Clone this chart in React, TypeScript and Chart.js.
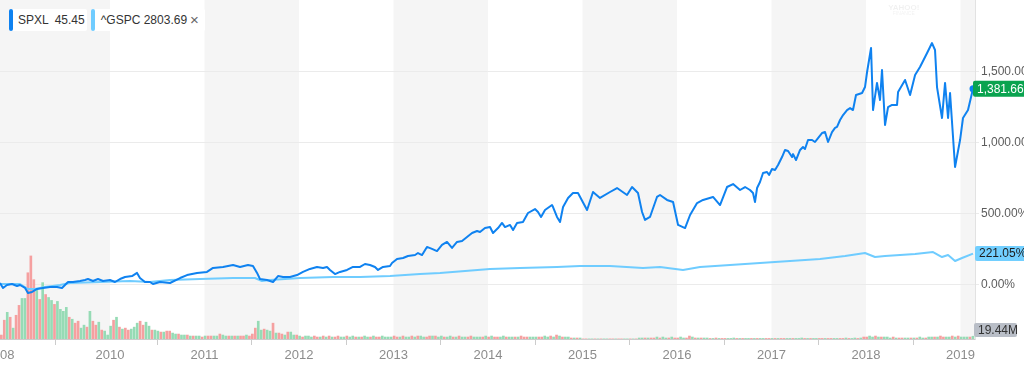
import React, { useEffect, useRef } from 'react';
import { Chart, registerables } from 'chart.js';

Chart.register(...registerables);

// ---- SPXL % change (fractional year, percent) ----
const spxlDates = [
  2008.836, 2008.868, 2008.910, 2008.963, 2009.016, 2009.048, 2009.101, 2009.132, 2009.175, 2009.228,
  2009.291, 2009.365, 2009.439, 2009.492, 2009.524, 2009.556, 2009.608, 2009.683, 2009.735, 2009.767,
  2009.820, 2009.873, 2009.926, 2010.000, 2010.053, 2010.106, 2010.159, 2010.233, 2010.286, 2010.317,
  2010.370, 2010.423, 2010.455, 2010.529, 2010.635, 2010.741, 2010.815, 2010.921, 2011.026, 2011.090,
  2011.196, 2011.302, 2011.376, 2011.460, 2011.513, 2011.556, 2011.587, 2011.661, 2011.725, 2011.778,
  2011.831, 2011.905, 2011.979, 2012.042, 2012.116, 2012.190, 2012.254, 2012.296, 2012.328, 2012.381,
  2012.434, 2012.508, 2012.571, 2012.646, 2012.698, 2012.751, 2012.804, 2012.836, 2012.889, 2012.963,
  2012.984, 2013.037, 2013.101, 2013.153, 2013.228, 2013.259, 2013.302, 2013.354, 2013.407, 2013.460,
  2013.513, 2013.566, 2013.619, 2013.672, 2013.725, 2013.778, 2013.831, 2013.884, 2013.915, 2013.968,
  2014.021, 2014.053, 2014.106, 2014.148, 2014.180, 2014.233, 2014.265, 2014.307, 2014.370, 2014.423,
  2014.497, 2014.529, 2014.561, 2014.603, 2014.677, 2014.688, 2014.730, 2014.762, 2014.794, 2014.847,
  2014.899, 2014.952, 2015.048, 2015.111, 2015.185, 2015.291, 2015.365, 2015.471, 2015.524, 2015.587,
  2015.630, 2015.661, 2015.714, 2015.788, 2015.820, 2015.894, 2015.958, 2016.011, 2016.085, 2016.138,
  2016.212, 2016.275, 2016.381, 2016.455, 2016.529, 2016.593, 2016.667, 2016.720, 2016.772, 2016.804,
  2016.825, 2016.847, 2016.878, 2016.910, 2016.952, 2016.974, 2017.005, 2017.037, 2017.069, 2017.111,
  2017.143, 2017.175, 2017.217, 2017.228, 2017.259, 2017.302, 2017.333, 2017.354, 2017.386, 2017.429,
  2017.460, 2017.492, 2017.534, 2017.566, 2017.598, 2017.640, 2017.672, 2017.693, 2017.725, 2017.757,
  2017.799, 2017.831, 2017.862, 2017.894, 2017.958, 2017.989, 2018.011, 2018.053, 2018.074, 2018.116,
  2018.148, 2018.169, 2018.201, 2018.233, 2018.275, 2018.328, 2018.339, 2018.413, 2018.466, 2018.519,
  2018.571, 2018.646, 2018.698, 2018.730, 2018.751, 2018.804, 2018.836, 2018.868, 2018.889, 2018.942,
  2018.995, 2019.026, 2019.079, 2019.132,
];
const spxlPct = [
  14, -21, 0, 7, -7, 0, -21, -56, -49, -28,
  -21, -14, -14, -21, 0, 21, 21, 28, 35, 42,
  28, 42, 28, 35, 21, 42, 56, 63, 85, 49,
  21, 21, 7, 21, 14, 49, 70, 85, 92, 120,
  127, 141, 127, 141, 134, 85, 42, 35, 21, 63,
  56, 56, 70, 92, 113, 127, 120, 127, 106, 77,
  92, 106, 127, 127, 148, 141, 127, 106, 127, 134,
  155, 183, 190, 204, 211, 225, 211, 268, 254, 239,
  282, 303, 261, 303, 310, 338, 366, 380, 373, 401,
  408, 366, 401, 437, 408, 423, 387, 437, 444, 507,
  535, 514, 479, 528, 563, 549, 479, 444, 549, 613,
  648, 648, 528, 655, 613, 655, 683, 634, 690, 648,
  514, 458, 479, 620, 634, 599, 584, 423, 401, 493,
  577, 599, 620, 563, 690, 711, 669, 690, 669, 648,
  584, 683, 725, 789, 796, 775, 817, 810, 845, 901,
  951, 944, 901, 922, 880, 951, 972, 958, 1021, 1021,
  1007, 1035, 1070, 1077, 1007, 1077, 1106, 1113, 1162, 1197,
  1232, 1246, 1232, 1338, 1352, 1394, 1500, 1669, 1232, 1423,
  1303, 1514, 1127, 1253, 1268, 1268, 1359, 1444, 1338, 1479,
  1535, 1634, 1704, 1655, 1394, 1176, 1423, 1176, 1352, 831,
  1021, 1176, 1232, 1381.66,
];

// ---- ^GSPC % change ----
const gspcDates = [
  2008.836, 2008.942, 2009.048, 2009.132, 2009.206, 2009.312, 2009.471, 2009.577, 2009.894, 2010.212,
  2010.423, 2010.635, 2010.952, 2011.302, 2011.534, 2011.608, 2011.693, 2012.011, 2012.360, 2012.646,
  2012.963, 2013.280, 2013.492, 2013.757, 2014.021, 2014.339, 2014.730, 2014.974, 2015.291, 2015.640,
  2015.820, 2016.063, 2016.243, 2016.561, 2016.878, 2017.196, 2017.513, 2017.778, 2017.989, 2018.095,
  2018.201, 2018.360, 2018.519, 2018.709, 2018.804, 2018.868, 2018.942, 2019.016, 2019.132,
];
const gspcPct = [
  7, 7, 7, -28, -28, -14, 0, 14, 21, 28,
  21, 35, 42, 49, 49, 28, 35, 49, 56, 56,
  63, 77, 85, 99, 113, 120, 127, 134, 134, 120,
  127, 106, 127, 141, 155, 169, 183, 204, 225, 197,
  204, 211, 218, 232, 197, 211, 169, 190, 221.05,
];

// ---- SPXL volume (millions), one bar every 1/32 year from volStart ----
const volStart = 2008.85;
const volStep = 1 / 32;
const volumeM = [
  28, 133, 189, 154, 77, 168, 238, 287, 287, 469,
  588, 420, 350, 280, 399, 315, 294, 273, 245, 266,
  210, 196, 224, 154, 140, 112, 126, 77, 98, 84,
  196, 126, 98, 119, 63, 56, 28, 91, 133, 154,
  84, 70, 77, 63, 70, 84, 112, 126, 98, 119,
  91, 63, 63, 56, 49, 49, 56, 56, 42, 35,
  35, 28, 28, 28, 21, 21, 21, 21, 14, 21,
  21, 21, 21, 21, 35, 28, 21, 21, 21, 21,
  21, 21, 21, 28, 21, 35, 77, 126, 63, 70,
  63, 56, 112, 42, 42, 35, 28, 49, 49, 28,
  28,
  21, 14, 21, 21, 14, 21, 14, 14, 21, 14, 21, 14, 14, 21, 14, 14, 21, 14, 21, 14, 14, 14, 21, 14, 14, 21, 14, 14, 21, 14, 14, 14, 21,
  14, 14, 21, 14, 14, 21, 14, 21, 21, 14, 14, 21, 21, 21, 14, 21, 14, 14, 21, 14, 14, 21, 14, 14, 14, 21, 14, 14, 14, 14, 21, 14,
  21, 14, 14, 14, 21, 14, 14, 14, 14, 14, 21, 14, 14, 14, 14, 14, 14, 14, 21, 14, 21, 14, 28, 21, 14, 14, 14, 7, 7, 7, 7,
  1, 1, 1, 1, 1, 1, 1, 1, 1, 1, 1, 1, 1, 1, 1, 1, 1, 1, 1,
  7, 7, 7, 7, 7, 7, 14, 7, 14, 7, 7, 14, 7, 7, 14, 7, 7, 21, 14, 7, 7,
  7, 7, 7, 4, 4, 7, 4, 4, 4, 4, 4, 7, 4, 4, 4, 4, 4, 4, 4, 4,
  4, 4, 4, 4, 4, 4, 4, 4, 4, 4, 4, 4, 4, 4, 7, 4, 4, 4, 4, 4,
  4, 4, 4, 4, 4, 4, 4, 4, 4, 7, 4, 4, 7, 4, 7,
  14, 14, 21, 14, 21, 14, 14, 14, 14, 7, 14,
  7, 7, 7, 7, 7, 7, 7, 7, 14, 7, 7, 14, 14,
  14, 14, 21, 14, 14, 14, 21, 14, 21, 14, 14, 14, 14, 19.44,
];
// r = down period, g = up period
const volumeDir =
  'rrgrgrrggr' + 'rrgrgrggrg' + 'gggrgrrggr' + 'grrgrgggrg' + 'rgrrgggrrg' +
  'grggrgrrgg' + 'rggrgrggrg' + 'rrggrggrgr' + 'grrgrrrggr' + 'ggrgrrgrgg' +
  'rgrgggrrgr' + 'grgrrggrgg' + 'rgrggrgrrg' + 'gggrrgrggr' + 'grggrrgrgg' +
  'rggrgrggrr' + 'gggrgrgrrg' + 'grggrgrrrg' + 'ggrrggrgrg' + 'rggrgrgrrg' +
  'grgrggrrgr' + 'rggrgrggrg' + 'rrgrggrgrr' + 'ggrrgrgrgg' + 'rgrgrrgggr' +
  'grggrgrggr' + 'rgrgrrggrg' + 'ggrgrggrrg' + 'rrggrrgrgg' + 'rgrrggrgrg' +
  'ggrgrrggrg' + 'rggrggrgrr' + 'ggrgrgggrg';

const xTickValues = [2008.836, 2010, 2011, 2012, 2013, 2014, 2015, 2016, 2017, 2018, 2019];
const xTickLabels = ['2008', '2010', '2011', '2012', '2013', '2014', '2015', '2016', '2017', '2018', '2019'];
const yTickValues = [0, 500, 1000, 1500];
const grayBands = [[2008, 2010], [2011, 2012], [2013, 2014], [2015, 2016], [2017, 2018], [2019, 2020]];

const X_MIN = 2008.836;
const X_MAX = 2019.153;
const Y_MIN = -380.3;
const Y_MAX = 2007;
const VOL_MAX = 2400;

const FONT = "'Helvetica Neue', Helvetica, Arial, 'Liberation Sans', sans-serif";
const SPXL_COLOR = '#0f82f0';
const GSPC_COLOR = '#6fccff';

const fmtPct = (v: number) => {
  const s = v.toFixed(2);
  const [i, d] = s.split('.');
  return i.replace(/\B(?=(\d{3})+(?!\d))/g, ',') + '.' + d + '%';
};

export default function App() {
  const ref = useRef<HTMLCanvasElement | null>(null);

  useEffect(() => {
    if (!ref.current) return;
    Chart.defaults.font.family = FONT;

    const spxl = spxlDates.map((x, i) => ({ x, y: spxlPct[i] }));
    const gspc = gspcDates.map((x, i) => ({ x, y: gspcPct[i] }));
    const vol = volumeM.map((v, i) => ({ x: volStart + i * volStep, y: v }));
    const volColors = volumeM.map((_, i) => ((volumeDir[i] || 'g') === 'g' ? '#96dbb5' : '#f5a0a0'));
    const lastIdx = spxl.length - 1;

    const bandsPlugin = {
      id: 'bands',
      beforeDraw(chart: any) {
        const { ctx, chartArea, scales } = chart;
        const xs = scales.x;
        ctx.save();
        ctx.fillStyle = '#f5f5f5';
        grayBands.forEach(([a, b]) => {
          const x1 = Math.max(chartArea.left, xs.getPixelForValue(a));
          const x2 = Math.min(chartArea.right, xs.getPixelForValue(b));
          if (x2 > x1) ctx.fillRect(x1, chartArea.top, x2 - x1, chartArea.bottom - chartArea.top);
        });
        ctx.fillStyle = 'rgba(0,0,0,0.06)';
        ctx.font = `bold 8px ${FONT}`;
        ctx.textAlign = 'center';
        ctx.textBaseline = 'middle';
        ctx.fillText('YAHOO!', xs.getPixelForValue(2018.4), 8);
        ctx.font = `5px ${FONT}`;
        ctx.fillText('FINANCE', xs.getPixelForValue(2018.4), 14);
        ctx.restore();
      },
    };

    const badgePlugin = {
      id: 'badges',
      afterDraw(chart: any) {
        const { ctx, chartArea, scales } = chart;
        const ys = scales.y;
        const right = chartArea.right;
        const drawBadge = (x: number, yc: number, w: number, h: number, bg: string, fg: string, text: string) => {
          ctx.save();
          ctx.fillStyle = bg;
          ctx.beginPath();
          if (ctx.roundRect) ctx.roundRect(x, yc - h / 2, w, h, 2);
          else ctx.rect(x, yc - h / 2, w, h);
          ctx.fill();
          ctx.fillStyle = fg;
          ctx.font = `12px ${FONT}`;
          ctx.textAlign = 'left';
          ctx.textBaseline = 'middle';
          ctx.fillText(text, x + 4, yc + 0.5);
          ctx.restore();
        };
        const spLast = spxlPct[spxlPct.length - 1];
        const gLast = gspcPct[gspcPct.length - 1];
        drawBadge(right - 2, ys.getPixelForValue(spLast), 60, 16, '#0aa34f', '#ffffff', fmtPct(spLast));
        drawBadge(right, ys.getPixelForValue(gLast), 60, 15, '#72cfff', '#1c1c1c', fmtPct(gLast));
        const vLast = volumeM[volumeM.length - 1];
        drawBadge(right - 1, chartArea.bottom - 9, 43, 14, '#b9bec7', '#333333', vLast.toFixed(2) + 'M');
      },
    };

    const chart = new Chart(ref.current, {
      type: 'line',
      data: {
        datasets: [
          {
            type: 'line',
            label: 'SPXL',
            data: spxl,
            borderColor: SPXL_COLOR,
            backgroundColor: SPXL_COLOR,
            borderWidth: 2,
            borderJoinStyle: 'round',
            tension: 0,
            pointRadius: (c: any) => (c.dataIndex === lastIdx ? 3.5 : 0),
            pointBackgroundColor: SPXL_COLOR,
            pointBorderWidth: 0,
            yAxisID: 'y',
            order: 1,
          },
          {
            type: 'line',
            label: '^GSPC',
            data: gspc,
            borderColor: GSPC_COLOR,
            borderWidth: 2,
            borderJoinStyle: 'round',
            tension: 0,
            pointRadius: 0,
            yAxisID: 'y',
            order: 2,
          },
          {
            type: 'bar',
            label: 'Volume',
            data: vol,
            backgroundColor: volColors,
            barThickness: 2,
            yAxisID: 'yv',
            order: 3,
          },
        ] as any,
      },
      options: {
        responsive: false,
        animation: false,
        layout: { padding: 0, autoPadding: false },
        plugins: { legend: { display: false }, tooltip: { enabled: false } },
        scales: {
          x: {
            type: 'linear',
            min: X_MIN,
            max: X_MAX,
            offset: false,
            afterBuildTicks: (s: any) => {
              s.ticks = xTickValues.map((v) => ({ value: v }));
            },
            afterFit: (s: any) => {
              s.height = 27;
              s.paddingLeft = 0;
              s.paddingRight = 0;
            },
            grid: { drawOnChartArea: false, drawTicks: true, tickLength: 6, color: '#cccccc' },
            border: { display: true, color: '#cccccc' },
            ticks: {
              autoSkip: false,
              maxRotation: 0,
              minRotation: 0,
              padding: 3,
              color: '#8c8c8c',
              font: { size: 13, family: FONT },
              callback: (_v: any, i: number) => xTickLabels[i],
            },
          },
          y: {
            type: 'linear',
            position: 'right',
            min: Y_MIN,
            max: Y_MAX,
            afterBuildTicks: (s: any) => {
              s.ticks = yTickValues.map((v) => ({ value: v }));
            },
            afterFit: (s: any) => {
              s.width = 49;
              s.paddingTop = 0;
              s.paddingBottom = 0;
            },
            grid: { color: '#ebebeb', drawTicks: true, tickLength: 4 },
            border: { display: true, color: '#e2e2e2' },
            ticks: {
              padding: 2,
              color: '#5c5c5c',
              font: { size: 12, family: FONT },
              callback: (v: any) => fmtPct(Number(v)),
            },
          },
          yv: {
            type: 'linear',
            display: false,
            min: 0,
            max: VOL_MAX,
          },
        },
      } as any,
      plugins: [bandsPlugin, badgePlugin],
    });
    return () => chart.destroy();
  }, []);

  const legendText: React.CSSProperties = {
    fontFamily: FONT,
    fontSize: 12,
    color: '#333',
    lineHeight: '22px',
    whiteSpace: 'nowrap',
  };

  return (
    <div style={{ position: 'absolute', left: 0, top: 0, width: 1024, height: 366, background: '#fff' }}>
      <canvas ref={ref} width={1024} height={366} style={{ display: 'block' }} />
      <div style={{ position: 'absolute', left: 9, top: 9, height: 22, display: 'flex' }}>
        <div style={{ display: 'flex', background: '#fff', borderRadius: 2, paddingRight: 2 }}>
          <div style={{ width: 4, height: 22, background: SPXL_COLOR, borderRadius: 2 }} />
          <span style={{ ...legendText, marginLeft: 5 }}>SPXL</span>
          <span style={{ ...legendText, marginLeft: 6 }}>45.45</span>
        </div>
        <div style={{ display: 'flex', background: '#fff', borderRadius: 2, marginLeft: 4, paddingRight: 6 }}>
          <div style={{ width: 4, height: 22, background: GSPC_COLOR, borderRadius: 2 }} />
          <span style={{ ...legendText, marginLeft: 6 }}>^GSPC 2803.69</span>
          <span style={{ ...legendText, marginLeft: 3, fontSize: 15, color: '#666' }}>×</span>
        </div>
      </div>
    </div>
  );
}
